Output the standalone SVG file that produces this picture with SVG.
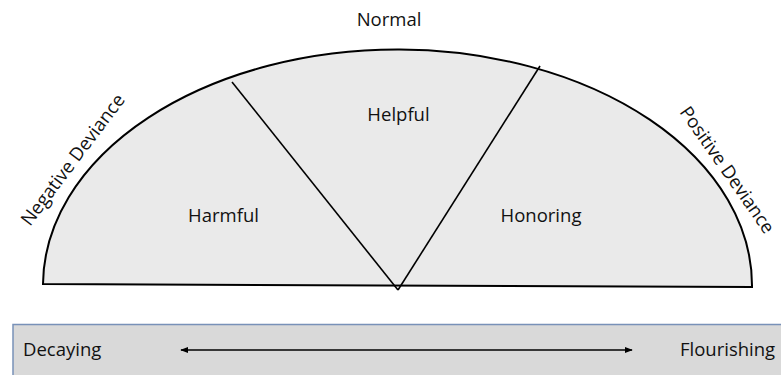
<svg xmlns="http://www.w3.org/2000/svg" width="781" height="375" viewBox="0 0 781 375">
<style>
text{font-family:"Open Sans","Liberation Sans",sans-serif;font-size:18.5px;fill:#111}
.ln{stroke:#000;stroke-width:1.6;fill:none}
</style>
<defs>
<marker id="ah" viewBox="0 0 10 10" refX="9" refY="5" markerWidth="5" markerHeight="5" orient="auto-start-reverse"><path d="M0,1 L10,5 L0,9 z" fill="#000"/></marker>
</defs>
<rect width="781" height="375" fill="#fff"/>
<g id="semicircle">
<path d="M43,284 A354.5,236 0 0 1 752,287 Z" fill="#eaeaea" stroke="#000" stroke-width="2"/>
</g>
<g id="connectors">
<line class="ln" x1="398" y1="290" x2="232" y2="82"/>
<line class="ln" x1="398" y1="290" x2="540" y2="66"/>
</g>
<g id="labels">
<text x="389" y="26" text-anchor="middle">Normal</text>
<text x="398.5" y="121" text-anchor="middle">Helpful</text>
<text x="223.5" y="222" text-anchor="middle">Harmful</text>
<text x="541" y="222" text-anchor="middle">Honoring</text>
<text transform="translate(30,227) rotate(-53)">Negative Deviance</text>
<text transform="translate(679,112) rotate(55)">Positive Deviance</text>
</g>
<g id="scale">
<rect x="13" y="324.5" width="790" height="60" fill="#d9d9d9" stroke="#7891b8" stroke-width="1.5"/>
<text x="23" y="356">Decaying</text>
<text x="680" y="356">Flourishing</text>
<line class="ln" x1="181" y1="350" x2="632" y2="350" stroke-width="1.3" marker-start="url(#ah)" marker-end="url(#ah)"/>
</g>
</svg>
